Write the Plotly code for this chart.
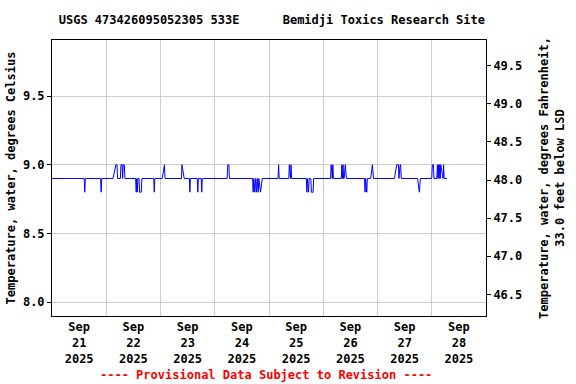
import plotly.graph_objects as go

# Change-point readings of the 15-minute water temperature record (deg C)
times = [
    "2025-09-21 00:00", "2025-09-21 14:15", "2025-09-21 14:30", "2025-09-21 14:45",
    "2025-09-21 21:30", "2025-09-21 21:45", "2025-09-21 22:00",
    "2025-09-22 03:00", "2025-09-22 04:15", "2025-09-22 04:45", "2025-09-22 05:00",
    "2025-09-22 06:15", "2025-09-22 06:30", "2025-09-22 07:00", "2025-09-22 07:15",
    "2025-09-22 07:30", "2025-09-22 08:00", "2025-09-22 08:15",
    "2025-09-22 13:00", "2025-09-22 13:15", "2025-09-22 13:30", "2025-09-22 13:45",
    "2025-09-22 14:00", "2025-09-22 14:30", "2025-09-22 14:45", "2025-09-22 15:30",
    "2025-09-22 15:45",
    "2025-09-22 21:00", "2025-09-22 21:15", "2025-09-22 21:30",
    "2025-09-23 00:45", "2025-09-23 01:30", "2025-09-23 01:45", "2025-09-23 02:00",
    "2025-09-23 09:15", "2025-09-23 09:30", "2025-09-23 10:30",
    "2025-09-23 12:45", "2025-09-23 13:00", "2025-09-23 13:15",
    "2025-09-23 16:15", "2025-09-23 16:30", "2025-09-23 16:45",
    "2025-09-23 18:00", "2025-09-23 18:15", "2025-09-23 18:30",
    "2025-09-24 05:30", "2025-09-24 05:45", "2025-09-24 06:15", "2025-09-24 06:30",
    "2025-09-24 16:45", "2025-09-24 17:00", "2025-09-24 17:15", "2025-09-24 17:45",
    "2025-09-24 18:00", "2025-09-24 18:30", "2025-09-24 18:45", "2025-09-24 19:15",
    "2025-09-24 19:30", "2025-09-24 20:15", "2025-09-24 21:00",
    "2025-09-25 04:00", "2025-09-25 04:15", "2025-09-25 04:30",
    "2025-09-25 08:45", "2025-09-25 09:00", "2025-09-25 09:15", "2025-09-25 09:30",
    "2025-09-25 09:45", "2025-09-25 10:00",
    "2025-09-25 16:30", "2025-09-25 16:45", "2025-09-25 17:00", "2025-09-25 17:30",
    "2025-09-25 17:45", "2025-09-25 18:30", "2025-09-25 18:45", "2025-09-25 19:30",
    "2025-09-25 19:45", "2025-09-25 20:00",
    "2025-09-26 03:15", "2025-09-26 03:30", "2025-09-26 03:45", "2025-09-26 04:00",
    "2025-09-26 04:15", "2025-09-26 04:30",
    "2025-09-26 08:00", "2025-09-26 08:15", "2025-09-26 08:30", "2025-09-26 08:45",
    "2025-09-26 09:00", "2025-09-26 09:15", "2025-09-26 09:45", "2025-09-26 10:00",
    "2025-09-26 10:15",
    "2025-09-26 18:15", "2025-09-26 18:30", "2025-09-26 18:45", "2025-09-26 19:15",
    "2025-09-26 19:30", "2025-09-26 19:45",
    "2025-09-26 21:00", "2025-09-26 21:45", "2025-09-26 22:00", "2025-09-26 22:15",
    "2025-09-27 07:30", "2025-09-27 08:30", "2025-09-27 09:15", "2025-09-27 09:30",
    "2025-09-27 10:00", "2025-09-27 10:15", "2025-09-27 10:30",
    "2025-09-27 17:45", "2025-09-27 18:30", "2025-09-27 18:45", "2025-09-27 19:00",
    "2025-09-28 00:00", "2025-09-28 00:15", "2025-09-28 00:45", "2025-09-28 01:00",
    "2025-09-28 02:15", "2025-09-28 02:30", "2025-09-28 02:45", "2025-09-28 03:00",
    "2025-09-28 03:15", "2025-09-28 03:30", "2025-09-28 03:45", "2025-09-28 04:00",
    "2025-09-28 05:00", "2025-09-28 05:15", "2025-09-28 05:30", "2025-09-28 06:45",
]
temps_c = [
    8.9, 8.9, 8.8, 8.9,
    8.9, 8.8, 8.9,
    8.9, 9.0, 9.0, 8.9,
    8.9, 9.0, 9.0, 8.9,
    9.0, 9.0, 8.9,
    8.9, 8.8, 8.9, 8.8,
    8.9, 8.9, 8.8, 8.8,
    8.9,
    8.9, 8.8, 8.9,
    8.9, 9.0, 9.0, 8.9,
    8.9, 9.0, 8.9,
    8.9, 8.8, 8.9,
    8.9, 8.8, 8.9,
    8.9, 8.8, 8.9,
    8.9, 9.0, 9.0, 8.9,
    8.9, 8.8, 8.9, 8.8,
    8.9, 8.8, 8.9, 8.8,
    8.9, 8.8, 8.9,
    8.9, 9.0, 8.9,
    8.9, 9.0, 8.9, 8.9,
    9.0, 8.9,
    8.9, 8.8, 8.9, 8.8,
    8.9, 8.9, 8.8, 8.8,
    8.9, 8.9,
    8.9, 9.0, 8.9, 8.9,
    9.0, 8.9,
    8.9, 9.0, 8.9, 9.0,
    8.9, 8.9, 9.0, 8.9,
    8.9,
    8.9, 8.8, 8.9, 8.8,
    8.9, 8.9,
    8.9, 9.0, 8.9, 8.9,
    8.9, 9.0, 9.0, 8.9,
    9.0, 9.0, 8.9,
    8.9, 8.8, 8.9, 8.9,
    8.9, 9.0, 9.0, 8.9,
    8.9, 9.0, 8.9, 9.0,
    8.9, 9.0, 8.9, 9.0,
    8.9, 9.0, 8.9, 8.9,
]

c_ticks = [8.0, 8.5, 9.0, 9.5]
f_ticks = [46.5, 47.0, 47.5, 48.0, 48.5, 49.0, 49.5]
c_range = [7.898, 9.909]
x_range = ["2025-09-21 00:00", "2025-09-29 00:00"]

title_text = "USGS 473426095052305 533E" + "\u00a0" * 6 + "Bemidji Toxics Research Site"
left_title = "Temperature, water, degrees Celsius"
right_title = "Temperature, water, degrees Fahrenheit,<br>33.0 feet below LSD"
footer = "---- Provisional Data Subject to Revision ----"

FONT = "DejaVu Sans Mono"
bold = dict(family=FONT, size=12, color="black", weight="bold")

fig = go.Figure()
fig.add_trace(go.Scatter(x=times, y=temps_c, mode="lines",
                         line=dict(color="#0000ff", width=1), showlegend=False,
                         hoverinfo="skip"))
# invisible trace to activate the Fahrenheit axis
fig.add_trace(go.Scatter(x=[times[0]], y=[temps_c[0] * 1.8 + 32], yaxis="y2",
                         mode="markers", marker=dict(opacity=0), showlegend=False,
                         hoverinfo="skip"))

fig.update_layout(
    width=576, height=384,
    margin=dict(l=52, r=90, t=40, b=68, autoexpand=False),
    paper_bgcolor="white", plot_bgcolor="white",
    font=bold,
    title=dict(text=title_text, x=0.472, xanchor="center", y=0.948, yanchor="middle",
               font=bold),
    xaxis=dict(
        type="date", range=x_range, tick0="2025-09-21", dtick=86400000,
        ticklabelmode="period", tickformat="%b<br>%d<br>%Y",
        showgrid=True, gridcolor="#cccccc", gridwidth=1,
        showline=True, linecolor="black", linewidth=1, mirror=True,
        ticks="", tickfont=bold, zeroline=False, automargin=False,
    ),
    yaxis=dict(
        range=c_range, tickvals=c_ticks, ticktext=[f"{v:.1f}" for v in c_ticks],
        showgrid=True, gridcolor="#cccccc", gridwidth=1,
        showline=True, linecolor="black", linewidth=1, mirror=True,
        ticks="outside", ticklen=4, tickcolor="black", tickfont=bold,
        zeroline=False, automargin=False,
        title=dict(text=left_title, font=bold, standoff=4),
    ),
    yaxis2=dict(
        overlaying="y", side="right",
        range=[c_range[0] * 1.8 + 32, c_range[1] * 1.8 + 32],
        tickvals=f_ticks, ticktext=[f"{v:.1f}" for v in f_ticks],
        showgrid=False, zeroline=False, showline=False,
        ticks="outside", ticklen=4, tickcolor="black", tickfont=bold,
        automargin=False,
        title=dict(text=right_title, font=bold, standoff=18),
    ),
    annotations=[dict(text=footer, xref="paper", yref="paper", x=0.493, y=-0.214,
                      xanchor="center", yanchor="middle", showarrow=False,
                      font=dict(family=FONT, size=12, color="red", weight="bold"))],
)

fig.write_html("out.html", config={"displayModeBar": False},
               post_script="document.body.style.margin='0';")
